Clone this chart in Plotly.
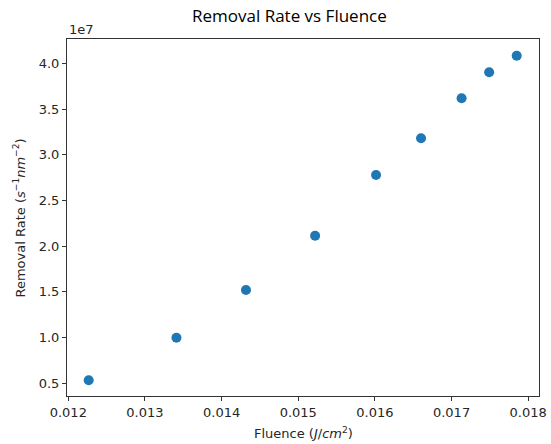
import plotly.graph_objects as go

fluence = [0.012266, 0.013411, 0.014318, 0.015220, 0.016015, 0.016602, 0.017131, 0.017491, 0.017850]
removal_rate = [5.33e6, 9.99e6, 1.521e7, 2.115e7, 2.779e7, 3.181e7, 3.618e7, 3.903e7, 4.084e7]

x_ticks = [0.012, 0.013, 0.014, 0.015, 0.016, 0.017, 0.018]
x_ticktext = ["0.012", "0.013", "0.014", "0.015", "0.016", "0.017", "0.018"]
y_ticks = [0.5e7, 1.0e7, 1.5e7, 2.0e7, 2.5e7, 3.0e7, 3.5e7, 4.0e7]
y_ticktext = ["0.5", "1.0", "1.5", "2.0", "2.5", "3.0", "3.5", "4.0"]

W, H = 551, 444
ML, MR, MT, MB = 67, 4, 39, 48

fig = go.Figure(go.Scatter(
    x=fluence, y=removal_rate, mode="markers",
    marker=dict(color="#1f77b4", size=10, line=dict(width=0)),
))

tickfont = dict(family="DejaVu Sans, Verdana, sans-serif", size=13, color="#262626")
axis_common = dict(showline=True, linecolor="#333333", linewidth=1, mirror=True,
                   showgrid=False, zeroline=False, ticks="outside", ticklen=4,
                   tickcolor="#333333", tickwidth=1, tickfont=tickfont,
                   ticklabeloverflow="allow")

fig.update_xaxes(range=[0.011983, 0.018141], tickvals=x_ticks, ticktext=x_ticktext, **axis_common)
fig.update_yaxes(range=[0.361e7, 4.267e7], tickvals=y_ticks, ticktext=y_ticktext, **axis_common)

pw, ph = W - ML - MR, H - MT - MB

fig.update_layout(
    width=W, height=H,
    margin=dict(l=ML, r=MR, t=MT, b=MB),
    paper_bgcolor="white", plot_bgcolor="white",
    showlegend=False,
    annotations=[
        dict(text="Removal Rate vs Fluence", x=(293 - ML) / pw, y=(H - 15 - MB) / ph,
             xref="paper", yref="paper", xanchor="center", yanchor="middle",
             showarrow=False, font=dict(family="Open Sans", size=17, color="black")),
        dict(text="1e7", x=0, y=1, xref="paper", yref="paper", xanchor="left", yanchor="bottom",
             showarrow=False, font=tickfont),
        dict(text="Fluence (<i>J</i>/<i>cm</i><sup>2</sup>)", x=0.5, y=0, xref="paper", yref="paper",
             xanchor="center", yanchor="top", yshift=-27, showarrow=False, font=tickfont),
        dict(text="Removal Rate (<i>s</i><sup>−1</sup><i>nm</i><sup>−2</sup>)", x=0, y=0.5,
             xref="paper", yref="paper", xanchor="right", yanchor="middle", xshift=-38,
             textangle=-90, showarrow=False, font=tickfont),
    ],
)

fig.write_html("out.html")
